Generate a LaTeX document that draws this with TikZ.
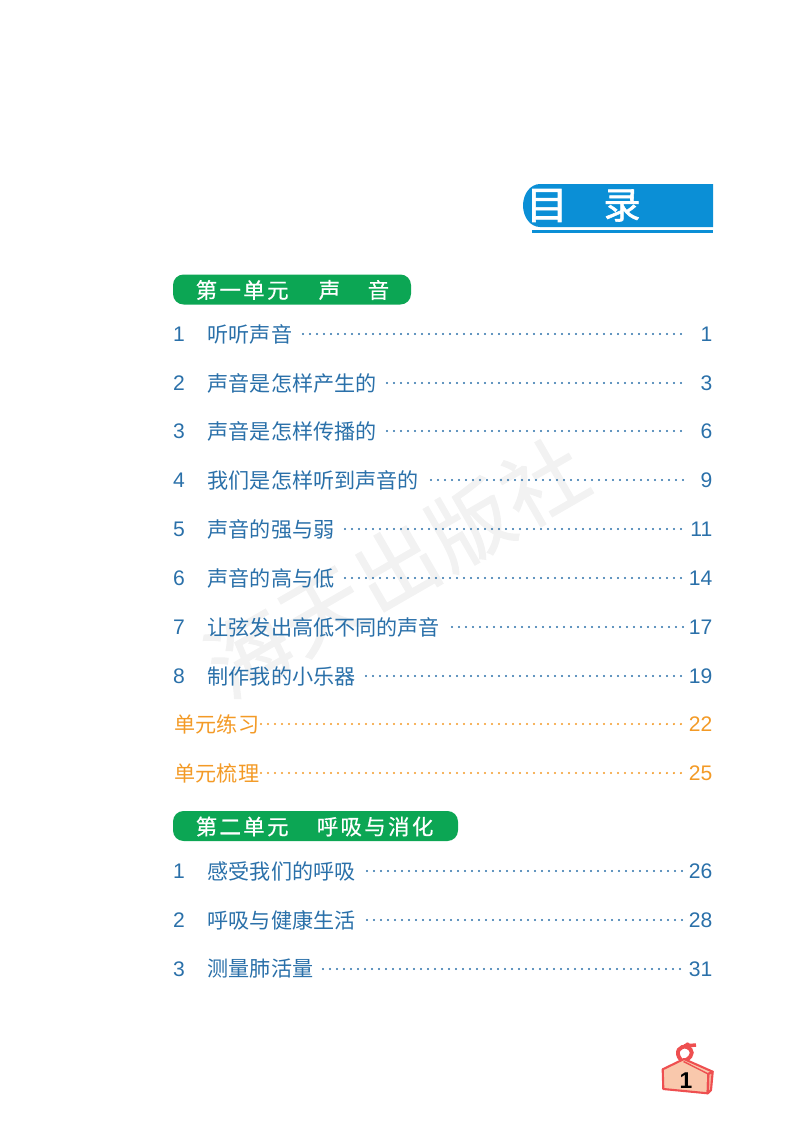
\documentclass[tikz,border=0pt]{standalone}
\usepackage{xcolor}
\usepackage{fontspec}
\setmainfont{Liberation Sans}
\newfontfamily\cjkfont{Noto Sans CJK SC}
\newfontfamily\headfont[LetterSpace=11,FakeBold=0.5]{Noto Sans CJK SC}
\newfontfamily\bannerfont[FakeBold=1.5]{Noto Sans CJK SC}
\newfontfamily\markfont[LetterSpace=3,FakeBold=1.2]{Noto Sans CJK SC}
\definecolor{tocblue}{HTML}{2A70A9}
\definecolor{tocorange}{HTML}{F39A26}
\definecolor{pillgreen}{HTML}{0CA654}
\definecolor{bannerblue}{HTML}{0B8FD6}
\definecolor{tagfill}{HTML}{F9C8AC}
\definecolor{tagline}{HTML}{EE4F50}
\tikzset{
  numlabel/.style={anchor=center, inner sep=0pt, text=tocblue, font=\fontsize{6}{7}\selectfont},
  toclabel/.style={anchor=west, inner sep=0pt, text=tocblue, font=\cjkfont\fontsize{6}{7}\selectfont},
  orangelabel/.style={anchor=west, inner sep=0pt, text=tocorange, font=\cjkfont\fontsize{6}{7}\selectfont},
  pagelabel/.style={anchor=east, inner sep=0pt, text=tocblue, font=\fontsize{6}{7}\selectfont},
  orangepage/.style={anchor=east, inner sep=0pt, text=tocorange, font=\fontsize{6}{7}\selectfont},
  leader/.style={tocblue, line width=0.65pt, line cap=round, dash pattern=on 0pt off 1.99pt},
  orangeleader/.style={tocorange, line width=0.65pt, line cap=round, dash pattern=on 0pt off 1.99pt},
  pillbox/.style={fill=pillgreen, rounded corners=3pt},
  pilllabel/.style={anchor=west, inner sep=0pt, text=white, font=\headfont\fontsize{6.1}{7}\selectfont}
}
\begin{document}
\begin{tikzpicture}[x=0.01cm, y=-0.01cm]
    \useasboundingbox (0, 0) rectangle (800, 1124);

    % watermark
    \node (Wmark) [rotate=30, inner sep=0pt, text=black!5, font=\markfont\fontsize{23.5}{24}\selectfont] at (396, 567) {海天出版社};

    % banner
    \fill [bannerblue] (713, 184) -- (540, 184) arc [start angle=270, end angle=90, x radius=17, y radius=21.5] -- (713, 227) -- cycle;
    \fill [bannerblue] (532, 230) rectangle (713, 232.5);
    \node (BannerA) [inner sep=0pt, text=white, xscale=1.1, font=\bannerfont\fontsize{11}{12}\selectfont] at (547, 205.5) {目};
    \node (BannerB) [inner sep=0pt, text=white, font=\bannerfont\fontsize{10.5}{12}\selectfont] at (622, 205.5) {录};

    % first unit
    \fill [pillbox] (173, 274.5) rectangle (411, 304.5);
    \node (UnitA) [pilllabel] at (195, 290) {第一单元};
    \node (UnitAa) [pilllabel] at (318, 290) {声};
    \node (UnitAb) [pilllabel] at (367, 290) {音};

    \coordinate (S1) at (303, 334);
    \coordinate (E1) at (683, 334);
    \coordinate (S2) at (387, 383);
    \coordinate (E2) at (683, 383);
    \coordinate (S3) at (387, 431);
    \coordinate (E3) at (683, 431);
    \coordinate (S4) at (431, 480);
    \coordinate (E4) at (683, 480);
    \coordinate (S5) at (345, 529);
    \coordinate (E5) at (683, 529);
    \coordinate (S6) at (345, 578);
    \coordinate (E6) at (683, 578);
    \coordinate (S7) at (452, 627);
    \coordinate (E7) at (683, 627);
    \coordinate (S8) at (366, 676);
    \coordinate (E8) at (683, 676);
    \coordinate (S9) at (261, 724);
    \coordinate (E9) at (683, 724);
    \coordinate (S10) at (261, 773);
    \coordinate (E10) at (683, 773);

    \node (N1) [numlabel] at (179, 334) {1};
    \node (T1) [toclabel] at (207, 334) {听听声音};
    \node (P1) [pagelabel] at (713, 334) {1};
    \draw [leader] (S1) to (E1);

    \node (N2) [numlabel] at (179, 383) {2};
    \node (T2) [toclabel] at (207, 383) {声音是怎样产生的};
    \node (P2) [pagelabel] at (713, 383) {3};
    \draw [leader] (S2) to (E2);

    \node (N3) [numlabel] at (179, 431) {3};
    \node (T3) [toclabel] at (207, 431) {声音是怎样传播的};
    \node (P3) [pagelabel] at (713, 431) {6};
    \draw [leader] (S3) to (E3);

    \node (N4) [numlabel] at (179, 480) {4};
    \node (T4) [toclabel] at (207, 480) {我们是怎样听到声音的};
    \node (P4) [pagelabel] at (713, 480) {9};
    \draw [leader] (S4) to (E4);

    \node (N5) [numlabel] at (179, 529) {5};
    \node (T5) [toclabel] at (207, 529) {声音的强与弱};
    \node (P5) [pagelabel] at (713, 529) {11};
    \draw [leader] (S5) to (E5);

    \node (N6) [numlabel] at (179, 578) {6};
    \node (T6) [toclabel] at (207, 578) {声音的高与低};
    \node (P6) [pagelabel] at (713, 578) {14};
    \draw [leader] (S6) to (E6);

    \node (N7) [numlabel] at (179, 627) {7};
    \node (T7) [toclabel] at (207, 627) {让弦发出高低不同的声音};
    \node (P7) [pagelabel] at (713, 627) {17};
    \draw [leader] (S7) to (E7);

    \node (N8) [numlabel] at (179, 676) {8};
    \node (T8) [toclabel] at (207, 676) {制作我的小乐器};
    \node (P8) [pagelabel] at (713, 676) {19};
    \draw [leader] (S8) to (E8);

    \node (T9) [orangelabel] at (174, 724) {单元练习};
    \node (P9) [orangepage] at (713, 724) {22};
    \draw [orangeleader] (S9) to (E9);

    \node (T10) [orangelabel] at (174, 773) {单元梳理};
    \node (P10) [orangepage] at (713, 773) {25};
    \draw [orangeleader] (S10) to (E10);

    % second unit
    \fill [pillbox] (173, 811) rectangle (458, 841);
    \node (UnitB) [pilllabel] at (195, 826.5) {第二单元};
    \node (UnitBa) [pilllabel] at (316, 826.5) {呼吸与消化};

    \coordinate (S11) at (367, 871);
    \coordinate (E11) at (683, 871);
    \coordinate (S12) at (367, 920);
    \coordinate (E12) at (683, 920);
    \coordinate (S13) at (323, 969);
    \coordinate (E13) at (683, 969);

    \node (N11) [numlabel] at (179, 871) {1};
    \node (T11) [toclabel] at (207, 871) {感受我们的呼吸};
    \node (P11) [pagelabel] at (713, 871) {26};
    \draw [leader] (S11) to (E11);

    \node (N12) [numlabel] at (179, 920) {2};
    \node (T12) [toclabel] at (207, 920) {呼吸与健康生活};
    \node (P12) [pagelabel] at (713, 920) {28};
    \draw [leader] (S12) to (E12);

    \node (N13) [numlabel] at (179, 969) {3};
    \node (T13) [toclabel] at (207, 969) {测量肺活量};
    \node (P13) [pagelabel] at (713, 969) {31};
    \draw [leader] (S13) to (E13);

    % page tag
    \draw [tagline, line width=1.1pt] (681, 1060) .. controls (674, 1052) and (680, 1045) .. (687, 1047) .. controls (693, 1049) and (694, 1056) .. (686, 1060);
    \draw [tagline, line width=1pt] (684, 1046) to (696, 1045);
    \fill [tagline] (687.5, 1045) circle (2.6);
    \draw [tagline, fill=tagfill, line width=0.6pt, line join=round] (662.7, 1069.3) -- (684, 1059) -- (712.7, 1071.7) -- (708.3, 1074) -- (707.7, 1093.3) -- (663.3, 1089) -- cycle;
    \draw [tagline, fill=tagfill!80!tagline, line width=0.6pt, line join=round] (712.7, 1071.7) -- (711, 1090) -- (707.7, 1093.3) -- (708.3, 1074) -- cycle;
    \draw [tagline, line width=0.4pt, line join=round] (683.5, 1061.5) -- (708.3, 1074);
    \node (TagNum) [inner sep=0pt, text=black, font=\bfseries\fontsize{6.5}{8}\selectfont] at (686, 1080.5) {1};
\end{tikzpicture}
\end{document}
